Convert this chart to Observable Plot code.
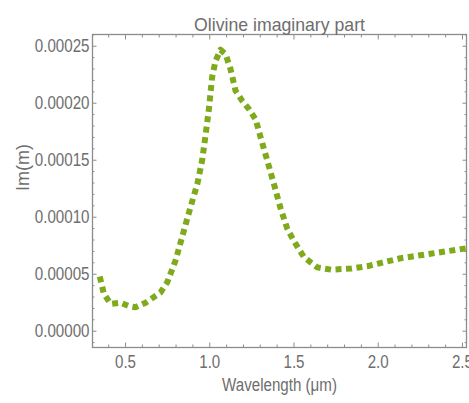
<!DOCTYPE html>
<html>
<head>
<meta charset="utf-8">
<script src="https://cdn.jsdelivr.net/npm/d3@7"></script>
<script src="https://cdn.jsdelivr.net/npm/@observablehq/plot@0.6"></script>
<style>
  html, body { margin: 0; padding: 0; background: #fff; }
  #chart svg { display: block; }
</style>
</head>
<body>
<div id="chart"></div>
<script>
const title = "Olivine imaginary part";
const xLabel = "Wavelength (μm)";
const yLabel = "Im(m)";

const wavelength = [0.347, 0.371, 0.411, 0.47, 0.52, 0.559, 0.619, 0.708, 0.748, 0.797,
  0.846, 0.886, 0.926, 0.955, 0.975, 0.995, 1.014, 1.034, 1.064, 1.094,
  1.123, 1.153, 1.193, 1.232, 1.272, 1.302, 1.341, 1.381, 1.42, 1.46,
  1.5, 1.559, 1.638, 1.72, 1.84, 1.935, 2.133, 2.311, 2.49, 2.54];
const imagPart = [4.8e-5, 3.3e-5, 2.4e-5, 2.5e-5, 2.2e-5, 2.1e-5, 2.5e-5, 3.4e-5, 4.3e-5, 6.2e-5,
  8.8e-5, 1.09e-4, 1.29e-4, 1.50e-4, 1.72e-4, 1.95e-4, 2.23e-4, 2.37e-4, 2.47e-4, 2.43e-4,
  2.30e-4, 2.11e-4, 2.02e-4, 1.95e-4, 1.86e-4, 1.70e-4, 1.50e-4, 1.29e-4, 1.08e-4, 9.0e-5,
  7.9e-5, 6.5e-5, 5.6e-5, 5.4e-5, 5.5e-5, 5.7e-5, 6.4e-5, 6.8e-5, 7.2e-5, 7.3e-5];

const xMajor = [0.5, 1.0, 1.5, 2.0, 2.5];
const xMinor = [0.4, 0.6, 0.7, 0.8, 0.9, 1.1, 1.2, 1.3, 1.4, 1.6, 1.7, 1.8, 1.9, 2.1, 2.2, 2.3, 2.4];
const yMajor = [0, 0.00005, 0.0001, 0.00015, 0.0002, 0.00025];
const yMinor = [-0.00001, 0.00001, 0.00002, 0.00003, 0.00004, 0.00006, 0.00007, 0.00008, 0.00009,
  0.00011, 0.00012, 0.00013, 0.00014, 0.00016, 0.00017, 0.00018, 0.00019,
  0.00021, 0.00022, 0.00023, 0.00024, 0.00026];

const data = wavelength.map((w, i) => ({w, v: imagPart[i]}));

const axisColor = "#8c8c8c";
const textColor = "#6e6e6e";
const font = "'Liberation Sans', Arial, sans-serif";
const empty = () => "";

const chart = Plot.plot({
  width: 469,
  height: 403,
  marginLeft: 92,
  marginRight: 3,
  marginTop: 34,
  marginBottom: 56,
  style: {fontFamily: font, fontSize: "18px", color: textColor, background: "#fff"},
  x: {domain: [0.304, 2.524]},
  y: {domain: [-0.0000143, 0.0002603]},
  marks: [
    Plot.axisX({anchor: "bottom", ticks: xMajor, tickSize: -4.5, tickFormat: empty, stroke: axisColor, label: null}),
    Plot.axisX({anchor: "bottom", ticks: xMinor, tickSize: -2.5, tickFormat: empty, stroke: axisColor, label: null}),
    Plot.axisX({anchor: "top", ticks: xMajor, tickSize: -4.5, tickFormat: empty, stroke: axisColor, label: null}),
    Plot.axisX({anchor: "top", ticks: xMinor, tickSize: -2.5, tickFormat: empty, stroke: axisColor, label: null}),
    Plot.axisY({anchor: "left", ticks: yMajor, tickSize: -4.5, tickFormat: empty, stroke: axisColor, label: null}),
    Plot.axisY({anchor: "left", ticks: yMinor, tickSize: -2.5, tickFormat: empty, stroke: axisColor, label: null}),
    Plot.axisY({anchor: "right", ticks: yMajor, tickSize: -4.5, tickFormat: empty, stroke: axisColor, label: null}),
    Plot.axisY({anchor: "right", ticks: yMinor, tickSize: -2.5, tickFormat: empty, stroke: axisColor, label: null}),
    Plot.axisX({anchor: "bottom", ticks: xMajor, tickSize: 0, tickPadding: 8, tickFormat: d3.format(".1f"), fill: textColor, label: null, fontSize: 18}),
    Plot.axisY({anchor: "left", ticks: yMajor, tickSize: 0, tickPadding: 3, tickFormat: d3.format(".5f"), fill: textColor, label: null, fontSize: 18}),
    Plot.frame({stroke: axisColor, strokeWidth: 1.3}),
    Plot.line(data, {x: "w", y: "v", stroke: "#7faa1c", strokeWidth: 6, strokeDasharray: "6,4.5", strokeLinecap: "butt", strokeLinejoin: "round"}),
    Plot.text([title], {frameAnchor: "top", dy: -17, fill: textColor, fontSize: 19}),
    Plot.text([xLabel], {frameAnchor: "bottom", dy: 43, fill: textColor, fontSize: 18}),
    Plot.text([yLabel], {frameAnchor: "left", dx: -69, rotate: -90, fill: textColor, fontSize: 18})
  ]
});
document.getElementById("chart").appendChild(chart);

// condense the text horizontally, like the narrow face of the reference
chart.querySelectorAll("text").forEach((t) => {
  const s = t.textContent;
  let ratio = 0.84;
  if (s === yLabel) return;
  if (s === title) ratio = 0.93;
  const len = t.getComputedTextLength();
  if (len > 0) {
    t.setAttribute("textLength", (len * ratio).toFixed(1));
    t.setAttribute("lengthAdjust", "spacingAndGlyphs");
  }
});
</script>
</body>
</html>
